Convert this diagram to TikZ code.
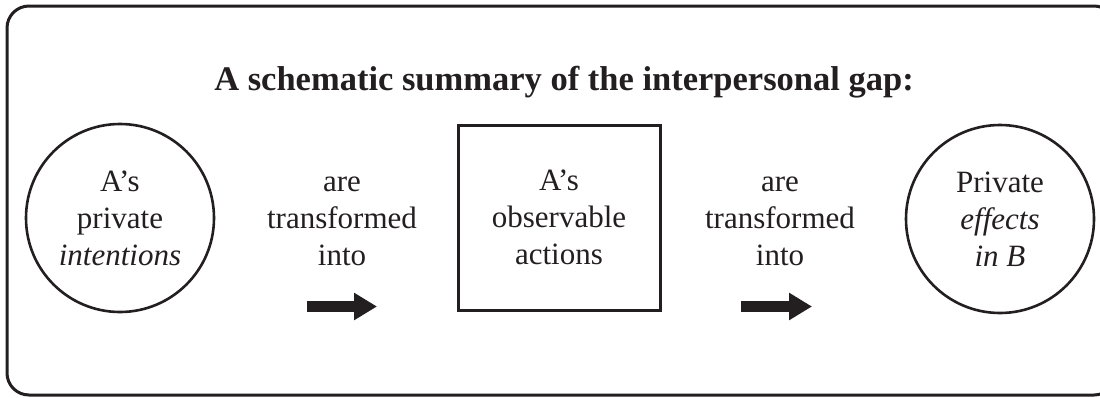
\documentclass[tikz,border=0pt]{standalone}
\usepackage{fontspec}
\setmainfont{Liberation Serif}
\usetikzlibrary{arrows.meta}
\definecolor{ink}{HTML}{231F20}
\begin{document}
\begin{tikzpicture}[x=1pt,y=-1pt,
  bodytext/.style={font={\fontsize{31}{37}\selectfont}, text=ink, align=center, inner sep=0pt},
  roundnode/.style={bodytext, circle, draw=ink, line width=2.6pt, minimum size=188pt},
  squarenode/.style={bodytext, rectangle, draw=ink, line width=3pt, minimum width=202pt, minimum height=185pt},
  fatarrow/.style={draw=ink, line width=11pt, -{Triangle[length=23pt,width=26pt]}}]
  \useasboundingbox (0,0) rectangle (1100,397);
  \clip (0,0) rectangle (1100,397);
  % outer frame
  \draw[ink, line width=3pt, rounded corners=22pt] (7,6) rectangle (1116,395);
  % heading
  \node[font={\fontsize{34.5}{40}\selectfont\bfseries}, text=ink, anchor=base, inner sep=0pt]
    (title) at (564,90) {A schematic summary of the interpersonal gap:};
  % the three stages
  \node[roundnode] (intent) at (120,218) {A’s\\private\\\textit{intentions}};
  \node[squarenode] (actions) at (559,217.5) {A’s\\observable\\actions};
  \node[roundnode] (effects) at (1000,219) {Private\\\textit{effects}\\\textit{in B}};
  % transitions
  \node[bodytext] (trans1) at (342,221) {are\\transformed\\into};
  \node[bodytext] (trans2) at (780,221) {are\\transformed\\into};
  \coordinate (a1s) at (307,306.5);
  \coordinate (a1e) at (377,306.5);
  \coordinate (a2s) at (741,306.5);
  \coordinate (a2e) at (812,306.5);
  \draw[fatarrow] (a1s) -- (a1e);
  \draw[fatarrow] (a2s) -- (a2e);
\end{tikzpicture}
\end{document}
